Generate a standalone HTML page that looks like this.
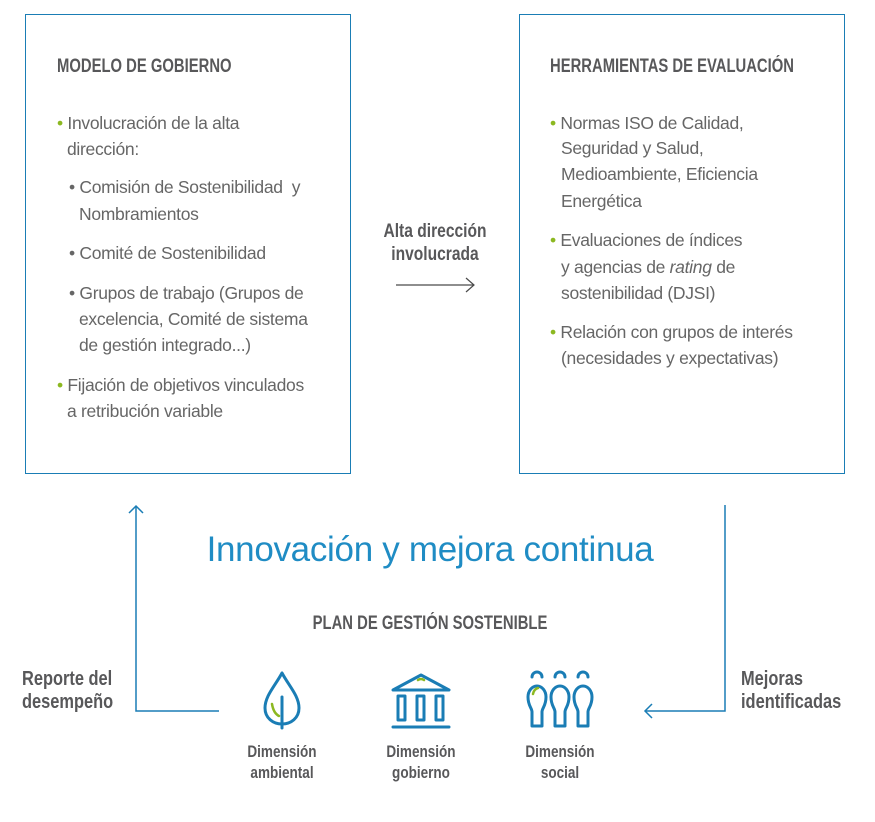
<!DOCTYPE html>
<html><head><meta charset="utf-8"><style>
*{margin:0;padding:0;box-sizing:border-box}
body{width:875px;height:822px;background:#fff;position:relative;overflow:hidden;font-family:"Liberation Sans",sans-serif;color:#666}
.box{position:absolute;border:1.3px solid #1a7db5;top:14px;height:460px}
.h{position:absolute;font-weight:bold;font-size:19px;color:#58585a;white-space:nowrap;transform:scaleX(0.78);transform-origin:left center;line-height:20px}
.c{transform-origin:center center;text-align:center}
.t{position:absolute;font-size:17.5px;line-height:20px;white-space:nowrap;color:#666;letter-spacing:-0.3px}
.g{color:#8cb821}
.lbl{position:absolute;font-weight:bold;font-size:16.5px;color:#58585a;line-height:21px;text-align:center;white-space:nowrap;transform:scaleX(0.82)}
</style></head><body>
<div class="box" style="left:25px;width:326px"></div>
<div class="box" style="left:519px;width:326px"></div>

<div class="h" style="left:57px;top:57px">MODELO DE GOBIERNO</div>
<div class="t" style="left:57px;top:113px"><span class="g">•</span> Involucración de la alta</div>
<div class="t" style="left:67px;top:139px">dirección:</div>
<div class="t" style="left:69px;top:177px">• Comisión de Sostenibilidad&nbsp; y</div>
<div class="t" style="left:79px;top:204px">Nombramientos</div>
<div class="t" style="left:69px;top:243px">• Comité de Sostenibilidad</div>
<div class="t" style="left:69px;top:283px">• Grupos de trabajo (Grupos de</div>
<div class="t" style="left:79px;top:309px">excelencia, Comité de sistema</div>
<div class="t" style="left:79px;top:335px">de gestión integrado...)</div>
<div class="t" style="left:57px;top:375px"><span class="g">•</span> Fijación de objetivos vinculados</div>
<div class="t" style="left:67px;top:401px">a retribución variable</div>

<div class="h" style="left:550px;top:57px">HERRAMIENTAS DE EVALUACIÓN</div>
<div class="t" style="left:550px;top:113px"><span class="g">•</span> Normas ISO de Calidad,</div>
<div class="t" style="left:561px;top:138px">Seguridad y Salud,</div>
<div class="t" style="left:561px;top:164px">Medioambiente, Eficiencia</div>
<div class="t" style="left:561px;top:191px">Energética</div>
<div class="t" style="left:550px;top:230px"><span class="g">•</span> Evaluaciones de índices</div>
<div class="t" style="left:561px;top:257px">y agencias de <i>rating</i> de</div>
<div class="t" style="left:561px;top:283px">sostenibilidad (DJSI)</div>
<div class="t" style="left:550px;top:322px"><span class="g">•</span> Relación con grupos de interés</div>
<div class="t" style="left:561px;top:348px">(necesidades y expectativas)</div>

<div class="lbl" style="left:335px;width:200px;top:220px;font-size:19px;line-height:23px">Alta dirección<br>involucrada</div>

<div style="position:absolute;left:130px;width:600px;top:530px;text-align:center;font-size:35px;color:#1f8cc4;white-space:nowrap;letter-spacing:-0.3px">Innovación y mejora continua</div>
<div class="h c" style="left:230px;width:400px;top:614px">PLAN DE GESTIÓN SOSTENIBLE</div>

<div class="lbl" style="left:22px;top:668px;font-size:20px;line-height:23px;text-align:left;transform-origin:left center">Reporte del<br>desempeño</div>
<div class="lbl" style="left:741px;top:668px;font-size:20px;line-height:23px;text-align:left;transform-origin:left center">Mejoras<br>identificadas</div>

<div class="lbl" style="left:222px;width:120px;top:742px">Dimensión<br>ambiental</div>
<div class="lbl" style="left:361px;width:120px;top:742px">Dimensión<br>gobierno</div>
<div class="lbl" style="left:500px;width:120px;top:742px">Dimensión<br>social</div>

<svg width="875" height="822" style="position:absolute;left:0;top:0" fill="none">
<g stroke="#4a4a4a" stroke-width="1.2">
<line x1="396" y1="285" x2="474" y2="285"/>
<polyline points="466,278 474,285 466,292"/>
</g>
<g stroke="#1a7db5" stroke-width="1.5">
<polyline points="219,711 136,711 136,506"/>
<polyline points="129,513 136,506 143,513"/>
<polyline points="725,505 725,711 645,711"/>
<polyline points="652,704 645,711 652,718"/>
</g>
<g stroke="#1a7db5" stroke-width="3" stroke-linecap="round" stroke-linejoin="round">
<path d="M282,673 C275,686 265,696 265,708 C265,718 273,724 282,724 C291,724 299,718 299,708 C299,696 289,686 282,673 Z"/>
<line x1="282" y1="697" x2="282" y2="728"/>
<path d="M393,690 L421,675 L449,690 Z"/>
<rect x="398" y="696" width="7" height="24"/>
<rect x="417" y="696" width="7" height="24"/>
<rect x="436" y="696" width="7" height="24"/>
<line x1="393" y1="727" x2="449" y2="727"/>
<path d="M532,677 a5,5 0 0 1 10,0 M555,677 a5,5 0 0 1 10,0 M578,677 a5,5 0 0 1 10,0"/>
<path d="M528,697 a9,11 0 0 1 18,0 c0,9 -4,11 -4,15 v14 h-10 v-14 c0,-4 -4,-6 -4,-15 Z"/>
<path d="M551,697 a9,11 0 0 1 18,0 c0,9 -4,11 -4,15 v14 h-10 v-14 c0,-4 -4,-6 -4,-15 Z"/>
<path d="M574,697 a9,11 0 0 1 18,0 c0,9 -4,11 -4,15 v14 h-10 v-14 c0,-4 -4,-6 -4,-15 Z"/>
</g>
<g stroke="#8cb821" stroke-width="2.5" stroke-linecap="round">
<path d="M272,704 C273,710 275,714 279,716"/>
<path d="M418,680 Q421,678 424,680"/>
<path d="M533,694 Q534,689 538,688"/>
</g>
</svg>
</body></html>
